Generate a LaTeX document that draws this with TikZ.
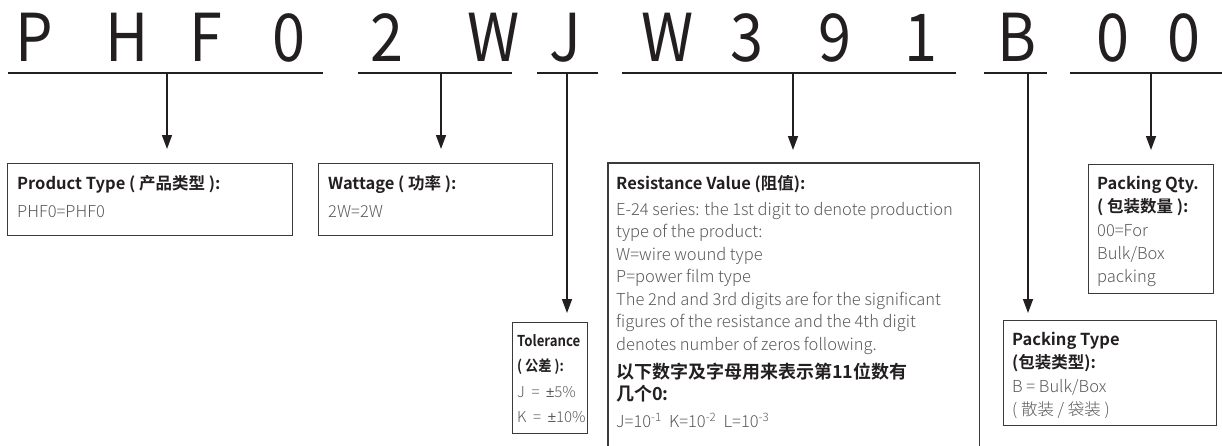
\documentclass[tikz,border=0pt]{standalone}
\usepackage{fontspec}
\usepackage{xcolor}
\usetikzlibrary{arrows.meta,positioning}

\IfFontExistsTF{Noto Sans CJK SC Light}
  {\setmainfont{Noto Sans CJK SC Light}[BoldFont={Noto Sans CJK SC Bold}]}
  {\setmainfont{Noto Sans CJK SC}[BoldFont={Noto Sans CJK SC Bold}]}
\newfontfamily\codefont{Noto Sans CJK SC}[FakeStretch=0.9]
\newfontfamily\narrowbold{Noto Sans CJK SC Bold}[FakeStretch=0.88]
\newfontfamily\pmfont{Liberation Sans}

\definecolor{ink}{HTML}{231F20}
\definecolor{frame}{HTML}{3A3A3A}
\definecolor{grey}{HTML}{58595B}

\newcommand{\hd}[1]{\textcolor{ink}{\bfseries #1}}
\newcommand{\nhd}[1]{\textcolor{ink}{\narrowbold #1}}

\begin{document}
\begin{tikzpicture}[x=1pt,y=-1pt,
    code/.style={font=\codefont\fontsize{66}{66}\selectfont, text=ink, inner sep=0, anchor=base},
    rule/.style={draw=ink, line width=2pt},
    infobox/.style={draw=frame, line width=1.3pt, anchor=north west, inner sep=0},
    boxline/.style={draw=frame, line width=1.3pt},
    infotext/.style={anchor=north west, align=left, inner sep=0, text=grey,
        font=\fontsize{16.5}{23.3}\selectfont},
    pointer/.style={draw=ink, line width=1.5pt, -{Triangle[length=14pt,width=10pt]}}]

    \useasboundingbox (0,0) rectangle (1222,445);

    % Part number, one letter at a time
    \foreach \ch/\x [count=\i] in {P/34,H/127,F/206,0/289,2/387,W/494,J/565,
                                   W/668,3/747,9/835,1/921,B/1017,0/1113,0/1184}
        \node[code] (ch\i) at (\x,61) {\ch};

    % Groups under the letters
    \draw[rule] (8,73) -- (323,73);
    \draw[rule] (358,73) -- (512,73);
    \draw[rule] (537,73) -- (598,73);
    \draw[rule] (622,73) -- (956,73);
    \draw[rule] (984,73) -- (1047,73);
    \draw[rule] (1070,73) -- (1222,73);
    \coordinate (tptype) at (167,73);
    \coordinate (twatt) at (441,73);
    \coordinate (ttol) at (567,73);
    \coordinate (trval) at (793,73);
    \coordinate (tpack) at (1028,73);
    \coordinate (tqty) at (1151,73);

    % Product type
    \node[infobox, minimum width=285, minimum height=72] (ptype) at (7,163) {};
    \node[infotext] (ptypetxt) at ([xshift=10pt,yshift=-12pt]ptype.north west)
        {\hd{Product Type ( 产品类型 ):}\\[5pt]PHF0=PHF0};

    % Wattage
    \node[infobox, minimum width=234, minimum height=72] (watt) at (318,163) {};
    \node[infotext] (watttxt) at ([xshift=10pt,yshift=-12pt]watt.north west)
        {\hd{Wattage ( 功率 ):}\\[5pt]2W=2W};

    % Tolerance
    \node[infobox, minimum width=75, minimum height=111] (tol) at (512,322) {};
    \node[infotext, font=\fontsize{15}{25.5}\selectfont] (toltxt)
        at ([xshift=5pt,yshift=-12pt]tol.north west)
        {\nhd{Tolerance}\\\nhd{( 公差 ):}\\J \ = \ {\pmfont ±}5\%\\K \ = \ {\pmfont ±}10\%};

    % Resistance value - box runs off the bottom
    \node[infobox, draw=none, minimum width=370, minimum height=284] (rval) at (608,163) {};
    \draw[boxline] (rval.south west) -- (rval.north west) -- (rval.north east) -- (rval.south east);
    \node[infotext, font=\fontsize{16.5}{22.5}\selectfont] (rvaltxt)
        at ([xshift=8pt,yshift=-12pt]rval.north west)
        {\hd{Resistance Value (阻值):}\\[3.5pt]
         E-24 series: the 1st digit to denote production\\
         type of the product:\\
         W=wire wound type\\
         P=power film type\\
         The 2nd and 3rd digits are for the significant\\
         figures of the resistance and the 4th digit\\
         denotes number of zeros following.\\[5.5pt]
         \hd{\fontsize{18}{22}\selectfont 以下数字及字母用来表示第11位数有}\\
         \hd{\fontsize{18}{22}\selectfont 几个0:}\\[4.5pt]
         J=10\textsuperscript{-1}\ \ K=10\textsuperscript{-2}\ \ L=10\textsuperscript{-3}};

    % Packing type
    \node[infobox, minimum width=213, minimum height=105] (pack) at (1003,320) {};
    \node[infotext] (packtxt) at ([xshift=9pt,yshift=-12pt]pack.north west)
        {\hd{Packing Type}\\\hd{(包装类型):}\\B = Bulk/Box\\( 散装 / 袋装 )};

    % Packing quantity
    \node[infobox, minimum width=125, minimum height=129] (qty) at (1088,164) {};
    \node[infotext] (qtytxt) at ([xshift=9pt,yshift=-12pt]qty.north west)
        {\hd{Packing Qty.}\\\hd{( 包装数量 ):}\\00=For\\Bulk/Box\\packing};

    % Arrows down to the boxes
    \draw[pointer, shorten >=14pt] (tptype) -- (tptype |- ptype.north);
    \draw[pointer, shorten >=14pt] (twatt) -- (twatt |- watt.north);
    \draw[pointer, shorten >=9pt] (ttol) -- (ttol |- tol.north);
    \draw[pointer, shorten >=13pt] (trval) -- (trval |- rval.north);
    \draw[pointer, shorten >=7pt] (tpack) -- (tpack |- pack.north);
    \draw[pointer, shorten >=14pt] (tqty) -- (tqty |- qty.north);
\end{tikzpicture}
\end{document}
